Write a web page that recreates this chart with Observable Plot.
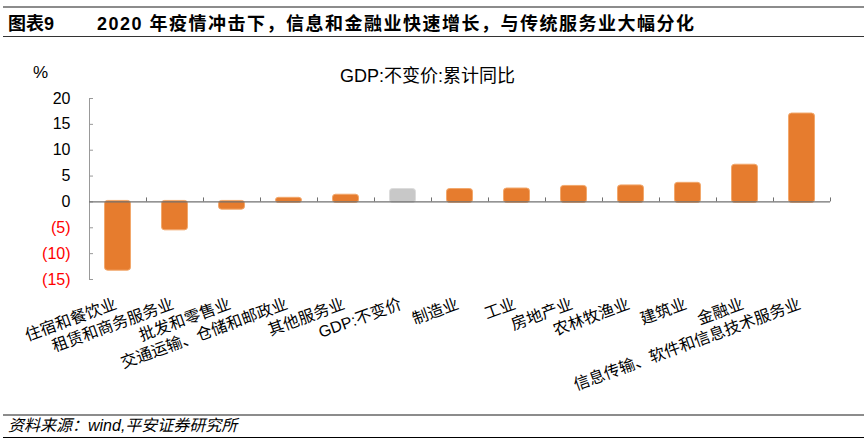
<!DOCTYPE html>
<html><head><meta charset="utf-8">
<script src="https://cdn.jsdelivr.net/npm/d3@7"></script>
<script src="https://cdn.jsdelivr.net/npm/@observablehq/plot@0.6"></script>
<style>
body{margin:0;background:#fff;font-family:"Liberation Sans","Noto Sans CJK SC",sans-serif;color:#000;}
#wrap{position:relative;width:864px;height:445px;overflow:hidden;}
.line{position:absolute;left:3px;right:0;}
.txt{position:absolute;white-space:nowrap;line-height:20px;}
#t1{left:8px;top:14px;font-size:18px;font-weight:bold;}
#t2{left:97px;top:14px;font-size:18px;font-weight:bold;letter-spacing:1.5px;}
#unit{left:33px;top:63px;font-size:17px;}
#sub{left:340px;top:66px;font-size:18px;}
#src{left:8px;top:416px;font-size:16px;font-style:italic;}
#chart{position:absolute;top:38px;left:0;}
</style></head>
<body>
<div id="wrap">
  <div class="line" style="top:6px;height:2px;background:#8c8c8c"></div>
  <div class="txt" id="t1">图表9</div>
  <div class="txt" id="t2">2020 年疫情冲击下，信息和金融业快速增长，与传统服务业大幅分化</div>
  <div class="line" style="top:36px;height:1px;background:#333"></div>
  <div id="chart"></div>
  <div class="txt" id="unit">%</div>
  <div class="txt" id="sub">GDP:不变价:累计同比</div>
  <div class="line" style="top:414px;height:2px;background:#8c8c8c"></div>
  <div class="txt" id="src">资料来源：wind,平安证券研究所</div>
  <div class="line" style="top:437px;height:1px;background:#000"></div>
</div>
<script>
const categories = ["住宿和餐饮业","租赁和商务服务业","批发和零售业","交通运输、仓储和邮政业","其他服务业","GDP:不变价","制造业","工业","房地产业","农林牧渔业","建筑业","金融业","信息传输、软件和信息技术服务业"];
const values = [-13.1, -5.3, -1.3, 0.6, 1.2, 2.3, 2.3, 2.4, 2.9, 3.0, 3.5, 7.0, 16.9];
const highlight = "GDP:不变价";
const posTicks = [0, 5, 10, 15, 20];
const negTicks = [-15, -10, -5];

const data = categories.map((c, i) => ({name: c, value: values[i]}));
const font = '"Liberation Sans","Noto Sans CJK SC",sans-serif';

const chart = Plot.plot({
  width: 864, height: 376,
  marginLeft: 89, marginRight: 34, marginTop: 60, marginBottom: 135,
  style: {fontFamily: font, fontSize: "16px", background: "transparent", color: "#000"},
  x: {domain: categories, padding: 0, label: null},
  y: {domain: [-15, 20], label: null},
  marks: [
    Plot.barY(data, {x: "name", y: "value",
      fill: d => d.name === highlight ? "#C8C8C8" : "#E67C2E",
      stroke: d => d.name === highlight ? "#DCDCDC" : "#F2A86C",
      strokeWidth: 1, rx: 3,
      insetLeft: 15.5, insetRight: 15.5, insetTop: -1, insetBottom: -1}),
    // y axis line and inward ticks
    Plot.ruleX([categories[0]], {dx: -28.5, stroke: "#999"}),
    Plot.ruleY(posTicks.concat(negTicks), {y: d => d, x1: () => categories[0], x2: () => categories[0], insetRight: 53, stroke: "#999"}),
    // zero line with category boundary ticks
    Plot.ruleY([0], {stroke: "#707070", strokeWidth: 1.2}),
    Plot.ruleX(categories, {x: d => d, y1: 0, y2: 0, dx: 28.5, insetTop: -4, stroke: "#707070"}),
    Plot.axisY(posTicks, {tickSize: 0, tickPadding: 19, fill: "#000", fontSize: 16, tickFormat: d => String(d), label: null}),
    Plot.axisY(negTicks, {tickSize: 0, tickPadding: 19, fill: "#ff0000", fontSize: 16, tickFormat: d => `(${-d})`, label: null}),
    Plot.axisX({tickSize: 0, tickPadding: 24, tickRotate: -20, textAnchor: "end", dx: -2, fontSize: 16, fill: "#000", label: null})
  ]
});
document.getElementById("chart").appendChild(chart);
</script>
</body></html>
